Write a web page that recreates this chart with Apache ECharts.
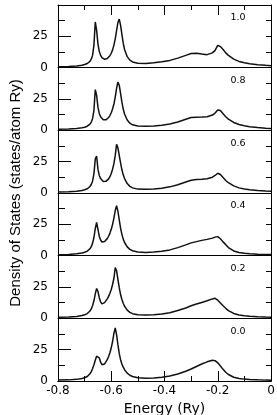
<!DOCTYPE html>
<html>
<head>
<meta charset="utf-8">
<script src="https://cdn.jsdelivr.net/npm/echarts@6/dist/echarts.min.js"></script>
<style>html,body{margin:0;padding:0;background:#fff}#c{width:277px;height:415px}</style>
</head>
<body>
<div id="c"></div>
<script>
// Energy grid (Ry)
const energy = [-0.80,-0.76,-0.73,-0.71,-0.70,-0.69,-0.685,-0.68,-0.675,-0.67,-0.665,-0.66,-0.655,-0.65,-0.645,-0.64,-0.635,-0.63,-0.625,-0.62,-0.615,-0.61,-0.605,-0.60,-0.595,-0.59,-0.585,-0.58,-0.575,-0.57,-0.565,-0.56,-0.555,-0.55,-0.54,-0.53,-0.52,-0.50,-0.47,-0.44,-0.41,-0.38,-0.35,-0.32,-0.30,-0.28,-0.26,-0.24,-0.22,-0.21,-0.20,-0.19,-0.18,-0.17,-0.16,-0.14,-0.12,-0.10,-0.08,-0.05,-0.02,0.00];

const panelLabels = ['1.0','0.8','0.6','0.4','0.2','0.0'];

const dos10 = [0.8,1.0,1.4,2.0,2.5,3.3,4.0,5.0,6.8,10,18,36.5,30,19,13,9.8,8.0,7.1,6.7,6.8,7.3,8.2,9.6,11.5,14.2,18,23,29.5,36,38.8,34,26.5,19.5,14.5,8.8,6.0,4.6,3.6,3.4,3.9,4.7,5.8,7.6,9.8,11.3,11.5,10.9,10.4,11.8,13.8,17.8,16.8,14.5,11.8,9.8,6.8,5.0,3.9,3.2,2.4,1.9,1.6];
const dos08 = [0.8,1.0,1.4,2.0,2.5,3.3,4.0,5.0,6.6,9.5,16,32.5,28,18.5,13.5,10.8,9.3,8.5,8.2,8.4,9.0,10.2,11.8,14,17,21,26.5,33.5,38.6,36,29.5,22.5,17,13,8.2,5.7,4.4,3.4,3.2,3.5,4.0,5.0,6.6,8.8,10.2,10.5,10.6,10.8,12.2,13.8,16.3,15.8,13.2,10.8,9.0,6.3,4.6,3.6,2.9,2.2,1.7,1.5];
const dos06 = [0.8,1.0,1.4,2.0,2.6,3.4,4.1,5.2,6.8,9.6,15.5,27,29.5,19,14,11.5,10.0,9.2,9.0,9.3,10.0,11.3,13,15.5,19,23.5,30,38.8,36,30,24,18.5,14.5,11.5,7.5,5.3,4.1,3.1,2.9,3.2,3.8,4.9,6.6,8.8,10.2,10.8,11.0,11.3,12.6,14.0,15.8,14.8,12.3,10.0,8.2,5.7,4.1,3.2,2.6,2.0,1.5,1.3];
const dos04 = [0.8,1.0,1.5,2.1,2.7,3.6,4.4,5.5,7.2,10,14.5,21.5,26.5,21,15.5,12.5,10.9,10.8,11.3,12.2,13.6,15.5,18,21,25,30,36,39.8,35.5,28.5,22,17,13.2,10.5,7.0,5.0,3.9,2.9,2.6,2.9,3.5,4.6,6.4,8.6,10.2,11.2,12.2,13.0,14.0,14.8,15.2,13.5,11.0,8.8,6.5,3.8,2.6,2.0,1.6,1.2,1.0,0.9];
const dos02 = [0.8,1.0,1.5,2.2,2.8,3.8,4.6,5.8,7.5,10.2,14,19.5,23.8,21.5,16.5,13.2,11.5,11.6,12.5,13.8,15.5,17.5,20,23,27,32,40.5,38,31,24.5,19,15,12,9.6,6.6,4.8,3.7,2.8,2.6,2.9,3.5,4.5,6.2,8.3,10.0,11.4,12.7,14.0,15.5,16.0,14.5,12.3,10.0,8.0,6.2,3.9,2.6,2.0,1.6,1.2,1.0,0.9];
const dos00 = [0.7,0.9,1.3,2.0,2.6,3.6,4.5,5.8,7.5,10,13,16.5,19.8,21.2,18.5,15,13,12.9,13.6,15,17,19.5,22.5,26.5,31.5,38,42.3,37,29,22,17,13.5,11,9,6.3,4.6,3.6,2.6,2.2,2.4,3.0,4.0,5.6,7.8,9.6,11.6,13.6,15.3,16.6,16.2,14.5,12,9.3,7.0,5.2,3.0,2.0,1.5,1.2,0.9,0.7,0.6];

const panels = [dos10, dos08, dos06, dos04, dos02, dos00];

const FONT = 'DejaVu Sans';
const L = 58, R = 6, TOP = 5, PH = 62.667;

const grid = [], xAxis = [], yAxis = [], series = [], title = [];
panels.forEach((vals, i) => {
  grid.push({left: L, right: R, top: TOP + i * PH, height: PH, containLabel: false, outerBoundsMode: 'none'});
  xAxis.push({
    gridIndex: i, type: 'value', min: -0.8, max: 0,
    axisLine: {show: true, onZero: false, lineStyle: {color: '#000', width: 1}},
    axisTick: {show: false}, axisLabel: {show: false}, splitLine: {show: false}
  });
  yAxis.push({
    gridIndex: i, type: 'value', min: 0, max: 50, interval: 25, position: 'left',
    axisLine: {show: true, onZero: false, lineStyle: {color: '#000', width: 1}},
    axisTick: {show: true, inside: true, length: 13, lineStyle: {color: '#000'}},
    minorTick: {show: true, splitNumber: 2, length: 7, lineStyle: {color: '#000'}},
    axisLabel: {show: true, margin: 10, color: '#000', fontFamily: FONT, fontSize: 12,
      formatter: v => (v === 50 ? '' : String(v))},
    splitLine: {show: false}
  });
  yAxis.push({
    gridIndex: i, type: 'value', min: 0, max: 50, interval: 12.5, position: 'right',
    axisLine: {show: true, onZero: false, lineStyle: {color: '#000', width: 1}},
    axisTick: {show: true, inside: true, length: 5, lineStyle: {color: '#000'}},
    axisLabel: {show: false}, splitLine: {show: false}
  });
  series.push({
    type: 'line', xAxisIndex: i, yAxisIndex: i * 2,
    data: energy.map((e, k) => [e, vals[k]]),
    showSymbol: false, smooth: false,
    lineStyle: {color: '#111', width: 1.5}, silent: true, animation: false
  });
  title.push({
    text: panelLabels[i], left: 238, top: TOP + i * PH + 8, textAlign: 'center', padding: 0,
    textStyle: {fontFamily: FONT, fontSize: 9.5, fontWeight: 'normal', color: '#000'}
  });
});

// outer frame grid for shared axes
grid.push({left: L, right: R, top: TOP, height: PH * 6, containLabel: false, outerBoundsMode: 'none'});
const og = panels.length;
xAxis.push({
  gridIndex: og, type: 'value', min: -0.8, max: 0, interval: 0.2, position: 'bottom',
  axisLine: {show: true, onZero: false, lineStyle: {color: '#000', width: 1}},
  axisTick: {show: true, inside: true, length: 10, lineStyle: {color: '#000'}},
  minorTick: {show: true, splitNumber: 2, length: 5, lineStyle: {color: '#000'}},
  axisLabel: {show: true, margin: 4, color: '#000', fontFamily: FONT, fontSize: 12},
  splitLine: {show: false},
  name: 'Energy (Ry)', nameLocation: 'middle', nameGap: 13,
  nameTextStyle: {fontFamily: FONT, fontSize: 14, color: '#000'}
});
xAxis.push({
  gridIndex: og, type: 'value', min: -0.8, max: 0, interval: 0.2, position: 'top',
  axisLine: {show: true, onZero: false, lineStyle: {color: '#000', width: 1}},
  axisTick: {show: true, inside: true, length: 10, lineStyle: {color: '#000'}},
  minorTick: {show: true, splitNumber: 2, length: 5, lineStyle: {color: '#000'}},
  axisLabel: {show: false}, splitLine: {show: false}
});
yAxis.push({
  gridIndex: og, type: 'value', min: 0, max: 1, position: 'left',
  axisLine: {show: false, onZero: false}, axisTick: {show: false}, axisLabel: {show: false}, splitLine: {show: false},
  name: 'Density of States (states/atom Ry)', nameLocation: 'middle', nameGap: 35,
  nameTextStyle: {fontFamily: 'Liberation Sans', fontSize: 15, color: '#000'}
});

const chart = echarts.init(document.getElementById('c'), null, {renderer: 'canvas'});
chart.setOption({animation: false, backgroundColor: '#fff', title, grid, xAxis, yAxis, series});
</script>
</body>
</html>
